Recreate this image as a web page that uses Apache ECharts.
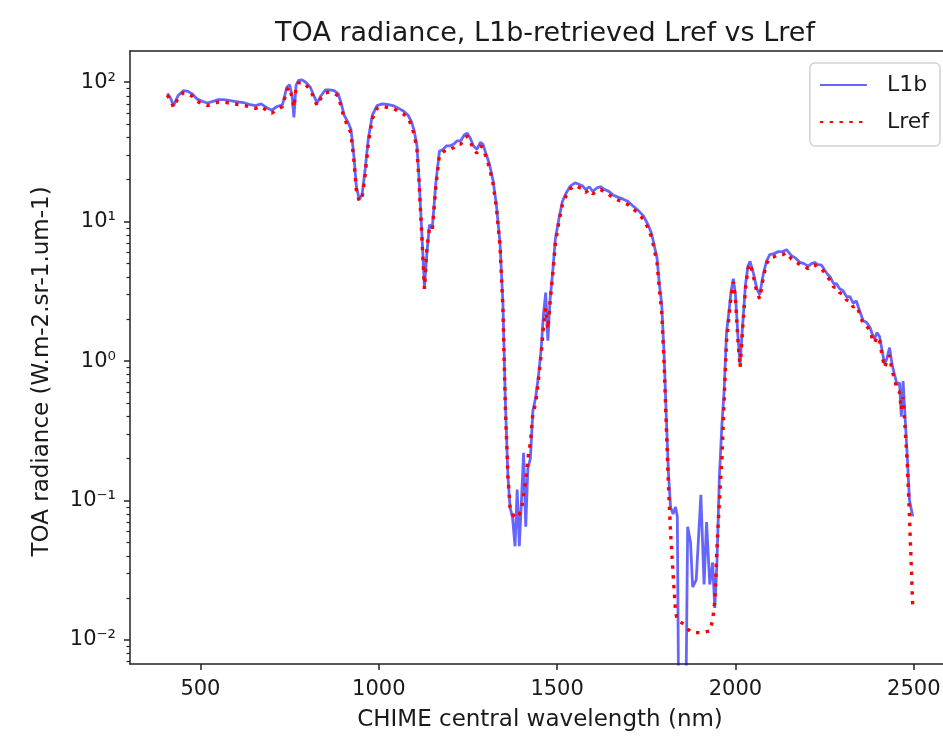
<!DOCTYPE html>
<html>
<head>
<meta charset="utf-8">
<script src="https://cdn.jsdelivr.net/npm/echarts@6/dist/echarts.min.js"></script>
<style>html,body{margin:0;padding:0;background:#fff;overflow:hidden}#c{width:943px;height:736px}</style>
</head>
<body>
<div id="c"></div>
<script>
// ---- data ----
const WAVELENGTH = [407,415,425,437,452,465,478,490,505,520,535,550,565,580,595,610,625,640,655,670,685,700,715,730,742,750,757,762,768,775,785,795,808,818,827,838,850,862,875,886,895,903,913,922,930,937,945,953,962,971,982,995,1010,1023,1040,1055,1070,1082,1092,1100,1107,1113,1120,1128,1135,1142,1150,1160,1170,1180,1190,1200,1210,1220,1230,1240,1248,1256,1265,1275,1285,1292,1300,1310,1320,1330,1340,1348,1355,1362,1368,1375,1382,1388,1394,1400,1406,1412,1418,1425,1432,1440,1448,1455,1462,1468,1474,1480,1488,1495,1505,1515,1525,1537,1550,1562,1572,1580,1590,1600,1612,1622,1633,1645,1657,1670,1685,1698,1712,1728,1742,1755,1765,1772,1780,1787,1793,1800,1806,1812,1818,1825,1832,1837,1845,1855,1866,1874,1880,1890,1903,1912,1919,1928,1936,1942,1948,1955,1962,1968,1975,1982,1988,1994,2000,2007,2013,2020,2028,2035,2041,2050,2060,2068,2078,2087,2096,2108,2120,2132,2143,2150,2157,2168,2181,2192,2204,2213,2222,2232,2241,2250,2258,2266,2275,2283,2292,2302,2311,2321,2330,2339,2348,2358,2367,2377,2384,2390,2397,2404,2411,2418,2425,2432,2439,2446,2453,2460,2465,2470,2476,2482,2488,2497];

// L1b-retrieved radiance (0.0001 = non-positive value, drawn below the axis)
const L1B = [83,78,68,80,87,86,82,76,73,71,73,75,75,74,73,72,71,69,68,70,66,63,67,69,92,96,80,56,95,103,104,100,92,80,71,80,88,88,87,83,70,58,52,46,30,18,14.5,15.5,24,40,58,68,70,69.5,68,65,62,58,52,44,35,20,9,3.4,6,9.5,9,19,32,33,35,35,36,38,38,42,43,40,35,33,37,36,31,26,20,13,7,2.6,0.5,0.15,0.09,0.075,0.047,0.12,0.047,0.1,0.22,0.065,0.17,0.2,0.44,0.55,0.8,1.2,2.2,3.1,1.4,2.7,4.5,7.5,10.5,14,16,18,19,18.5,18,17,17.8,16.5,17.5,17.8,17,16.5,15.5,15,14.5,14,13,12,11,9.5,8.2,6.8,5.5,3.5,2.6,1.1,0.4,0.16,0.09,0.08,0.09,0.077,0.0001,0.0001,0.065,0.05,0.024,0.027,0.11,0.025,0.07,0.025,0.036,0.017,0.035,0.15,0.35,0.6,1.6,2.3,3.2,3.9,3.0,1.5,0.95,1.8,3.5,4.8,5.2,4.3,3.3,3.0,4.2,5.2,5.8,5.9,6.1,6.1,6.3,6.0,5.7,5.5,5.1,5.0,4.8,5.0,5.1,4.9,4.9,4.5,4.2,4.0,3.6,3.6,3.3,3.2,2.9,2.9,2.6,2.7,2.3,1.95,1.9,1.75,1.55,1.45,1.6,1.5,1.2,0.95,1.05,1.25,0.95,0.8,0.68,0.7,0.4,0.72,0.38,0.2,0.1,0.077];

// reference radiance Lref
const LREF = [81,75,66,77,84,83,79,73,70,68,70,72,72,71,70,69,68,66,65,67,63,60,64,67,88,92,77,66,91,99,100,96,88,77,68,77,84,85,83,80,66,55,49,43,28,17,14,14.8,22,37,55,65,67,66,65,62,59,55,49,41,33,19,8.5,3.3,6.5,9,8.7,18,30,31.5,33,33,34,36,36,40,41,38,33,31,35,34,29.5,24.5,19,12.5,6.6,2.4,0.45,0.15,0.09,0.08,0.076,0.075,0.08,0.085,0.11,0.14,0.2,0.26,0.42,0.5,0.75,1.1,1.8,2.4,1.7,2.6,4.3,7,10,13.3,15.3,17.2,18.2,17.6,17.2,16.2,17,15.8,16.7,17,16.3,15.7,14.8,14.3,13.8,13.3,12.4,11.4,10.4,9,7.7,6.4,5.1,3.2,2.3,0.95,0.35,0.13,0.06,0.03,0.016,0.0139,0.0135,0.013,0.012,0.0115,0.0113,0.0113,0.0113,0.0114,0.0115,0.0116,0.0139,0.019,0.045,0.1,0.2,0.5,1.4,2.1,3,3.7,2.8,1.4,0.9,1.7,3.3,4.6,5.0,4.1,3.1,2.8,4.0,5.0,5.5,5.6,5.8,5.8,6.0,5.7,5.4,5.2,4.9,4.8,4.6,4.8,4.9,4.7,4.6,4.3,4.0,3.8,3.4,3.4,3.1,3.0,2.75,2.7,2.45,2.5,2.2,1.85,1.8,1.65,1.45,1.35,1.5,1.4,1.1,0.9,1.0,1.1,0.85,0.75,0.62,0.6,0.45,0.55,0.32,0.18,0.075,0.0174];

const SERIES_NAMES = ['L1b', 'Lref'];
const TITLE = 'TOA radiance, L1b-retrieved Lref vs Lref';
const X_NAME = 'CHIME central wavelength (nm)';
const Y_NAME = 'TOA radiance (W.m-2.sr-1.um-1)';
const X_TICKS = [500, 1000, 1500, 2000, 2500];
const X_TICK_LABELS = ['500', '1000', '1500', '2000', '2500'];
const Y_TICKS = [0.01, 0.1, 1, 10, 100];
const Y_TICK_LABELS = ['10\u207B\u00B2', '10\u207B\u00B9', '10\u2070', '10\u00B9', '10\u00B2'];
const Y_MINOR_TICKS = [0.007,0.008,0.009,0.02,0.03,0.04,0.05,0.06,0.07,0.08,0.09,0.2,0.3,0.4,0.5,0.6,0.7,0.8,0.9,2,3,4,5,6,7,8,9,20,30,40,50,60,70,80,90];
const X_RANGE = [302.5, 2601.5];
const Y_RANGE = [0.00673, 167.5];

// ---- chart ----
const FONT = 'DejaVu Sans';
const TXT = '#1a1a1a';
const AX = '#222';
const chart = echarts.init(document.getElementById('c'), null, {renderer: 'canvas'});

function lookup(ticks, labels, v, log) {
  for (let i = 0; i < ticks.length; i++) {
    const d = log ? Math.abs(Math.log10(v) - Math.log10(ticks[i])) : Math.abs(v - ticks[i]);
    if (d < 1e-6) return labels[i];
  }
  return '';
}

const option = {
  animation: false,
  backgroundColor: '#fff',
  title: {
    text: TITLE, left: 540, top: 15, textAlign: 'center',
    textStyle: {fontFamily: FONT, fontSize: 27, fontWeight: 'normal', color: TXT}
  },
  legend: {
    data: SERIES_NAMES, orient: 'vertical', right: 3, top: 63, align: 'left',
    itemWidth: 47, itemHeight: 14, itemGap: 11,
    padding: [9, 11, 11, 9],
    backgroundColor: 'rgba(255,255,255,0.8)', borderColor: '#d2d2d2', borderWidth: 1.5, borderRadius: 5,
    itemStyle: {opacity: 0, borderWidth: 0},
    textStyle: {fontFamily: FONT, fontSize: 22, color: TXT, lineHeight: 26, padding: [0, 0, 0, 15]}
  },
  grid: {left: 130, width: 820, top: 51, bottom: 72, containLabel: false, outerBoundsMode: 'none'},
  xAxis: [{
    type: 'value', min: X_RANGE[0], max: X_RANGE[1], position: 'bottom',
    name: X_NAME, nameLocation: 'middle', nameGap: 45,
    nameTextStyle: {fontFamily: FONT, fontSize: 23, color: TXT},
    axisLine: {show: true, onZero: false, lineStyle: {color: AX, width: 1.5}},
    axisTick: {show: true, length: 6, customValues: X_TICKS, lineStyle: {color: AX, width: 1.5}},
    axisLabel: {customValues: X_TICKS, margin: 15, fontFamily: FONT, fontSize: 21, color: TXT,
      formatter: v => lookup(X_TICKS, X_TICK_LABELS, v, false)},
    splitLine: {show: false}
  }, {
    type: 'value', min: X_RANGE[0], max: X_RANGE[1], position: 'top',
    axisLine: {show: true, onZero: false, lineStyle: {color: AX, width: 1.5}},
    axisTick: {show: false}, axisLabel: {show: false}, splitLine: {show: false}
  }],
  yAxis: [{
    type: 'log', logBase: 10, min: Y_RANGE[0], max: Y_RANGE[1], position: 'left',
    name: Y_NAME, nameLocation: 'middle', nameGap: 76,
    nameTextStyle: {fontFamily: FONT, fontSize: 23, color: TXT, padding: [0, 28, 0, 0]},
    axisLine: {show: true, onZero: false, lineStyle: {color: AX, width: 1.5}},
    axisTick: {show: true, length: 6, customValues: Y_TICKS, lineStyle: {color: AX, width: 1.5}},
    axisLabel: {customValues: Y_TICKS, margin: 14, fontFamily: FONT, fontSize: 21, color: TXT,
      formatter: v => lookup(Y_TICKS, Y_TICK_LABELS, v, true)},
    splitLine: {show: false}, minorTick: {show: false}
  }, {
    type: 'log', logBase: 10, min: Y_RANGE[0], max: Y_RANGE[1], position: 'left', offset: 0,
    axisLine: {show: false, onZero: false},
    axisTick: {show: true, length: 3.5, customValues: Y_MINOR_TICKS, lineStyle: {color: AX, width: 1.2}},
    axisLabel: {show: false}, splitLine: {show: false}
  }],
  series: [{
    name: SERIES_NAMES[0], type: 'line', xAxisIndex: 0, yAxisIndex: 0,
    data: WAVELENGTH.map((w, i) => [w, L1B[i]]),
    symbol: 'none', showSymbol: false, clip: true, z: 2,
    color: 'rgba(0,0,255,0.6)',
    lineStyle: {width: 2.8, color: 'rgba(0,0,255,0.6)'}
  }, {
    name: SERIES_NAMES[1], type: 'line', xAxisIndex: 0, yAxisIndex: 0,
    data: WAVELENGTH.map((w, i) => [w, LREF[i]]),
    symbol: 'none', showSymbol: false, clip: true, z: 3,
    color: '#ff0000',
    lineStyle: {width: 3.4, color: '#ff0000', type: [3.4, 6.4]}
  }]
};
chart.setOption(option);
</script>
</body>
</html>
